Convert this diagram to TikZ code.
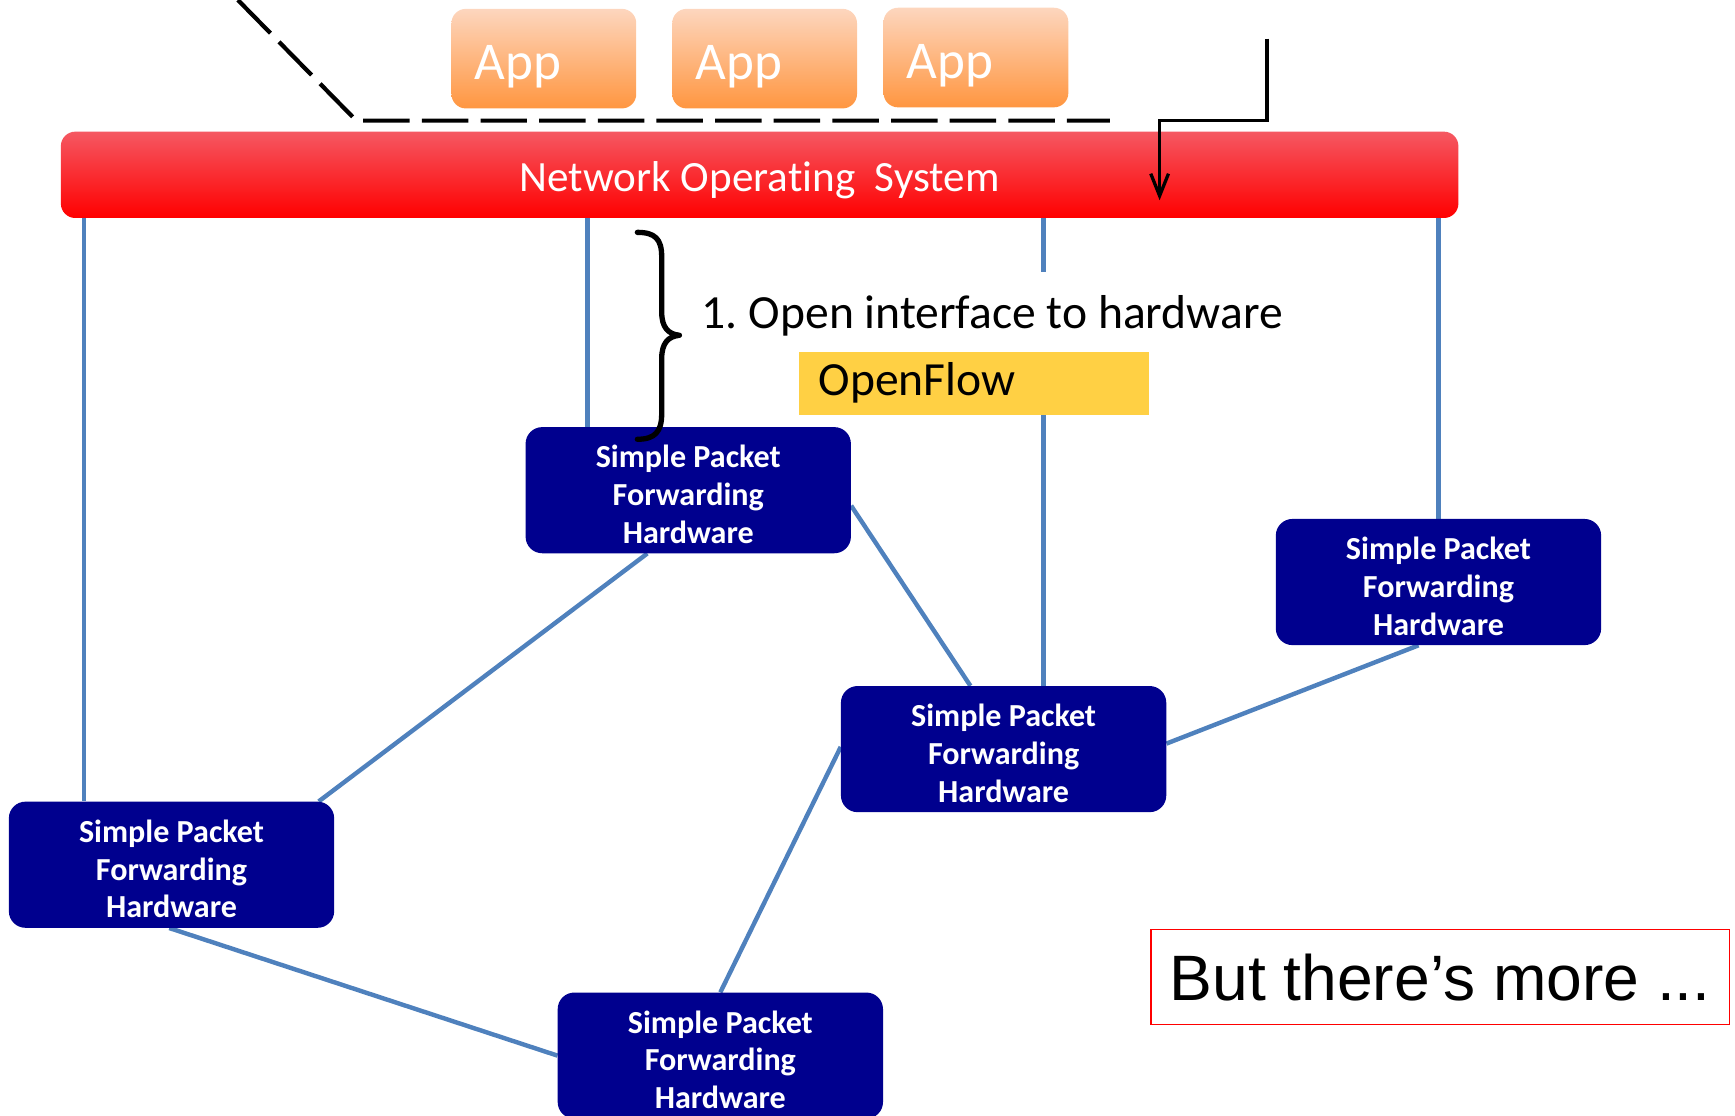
\documentclass[tikz,border=0pt]{standalone}
\usepackage{fontspec}
\setmainfont{Carlito}[Ligatures=NoCommon]
\newfontfamily\arialfont{Liberation Sans}
\usetikzlibrary{arrows.meta,calc,backgrounds}

\definecolor{navybox}{RGB}{0,0,142}
\definecolor{linkblue}{RGB}{79,129,189}
\definecolor{flowyellow}{RGB}{255,208,68}
\definecolor{apptop}{RGB}{253,214,190}
\definecolor{appbot}{RGB}{255,150,64}
\definecolor{nostop}{RGB}{245,88,98}
\definecolor{nosbot}{RGB}{255,0,0}

% invisible strut that lowers the three-line switch labels a little
\newcommand{\firstlinestrut}{\rule{0pt}{28pt}}

\tikzset{
  appbox/.style={rounded corners=13pt, top color=apptop, bottom color=appbot,
    minimum width=167pt, minimum height=90pt, inner sep=0pt,
    text width=125pt, align=left, text=white,
    font=\fontsize{48}{50}\selectfont, text height=38pt, text depth=0pt},
  nosbar/.style={rounded corners=13pt, top color=nostop, bottom color=nosbot,
    minimum width=1263pt, minimum height=78pt, inner sep=0pt, text=white,
    font=\fontsize{39}{42}\selectfont, text height=30pt, text depth=0pt},
  switchbox/.style={rounded corners=15pt, fill=navybox, text=white,
    minimum width=294pt, minimum height=114pt, inner sep=0pt, align=center,
    font=\bfseries\fontsize{29}{34}\selectfont},
  link/.style={draw=linkblue, line width=4pt},
  ctrl/.style={draw=black, line width=3.2pt},
}

\begin{document}
\begin{tikzpicture}[x=1pt,y=-1pt]
\clip (0,0) rectangle (1568,1008);

% applications
\node[appbox] (app1) at (491.5,53) {App};
\node[appbox] (app2) at (691,53) {App};
\node[appbox] (app3) at (882,52) {App};

% network operating system
\node[nosbar] (nos) at (686.5,158) {Network Operating\ \ System};

% forwarding elements
\node[switchbox] (b1) at (622,443)   {\firstlinestrut Simple Packet\\Forwarding\\Hardware};
\node[switchbox] (b2) at (1300,526)  {\firstlinestrut Simple Packet\\Forwarding\\Hardware};
\node[switchbox] (b3) at (907,677)   {\firstlinestrut Simple Packet\\Forwarding\\Hardware};
\node[switchbox] (b4) at (155,781.5) {\firstlinestrut Simple Packet\\Forwarding\\Hardware};
\node[switchbox] (b5) at (651,954)   {\firstlinestrut Simple Packet\\Forwarding\\Hardware};

% interface label and protocol
\node[anchor=west, fill=white, inner xsep=8pt, inner ysep=0pt,
      minimum height=72pt, font=\fontsize{43}{46}\selectfont,
      text height=29.4pt, text depth=0pt] (iface) at (626,282)
      {1.\kern-3pt{} Open interface to hardware};
\node[fill=flowyellow, minimum width=316pt, minimum height=57pt, inner sep=0pt,
      text width=280pt, align=left, font=\fontsize{43}{46}\selectfont,
      text height=21pt, text depth=0pt] (flow) at (880,346.5) {OpenFlow};

\node[draw=red, line width=1.5pt, minimum width=523pt, minimum height=86pt,
      inner sep=0pt, font=\arialfont\fontsize{58}{60}\selectfont,
      text height=42pt, text depth=0pt] (more) at (1301.5,883)
      {But there’s more ...};

% brace over the interface
\node[inner sep=0pt] (bracetip) at (614,303) {};
\draw[line width=4.8pt, line cap=round, line join=round]
  (576,210) .. controls (592,210) and (598,216) .. (598,232)
  -- (598,282) .. controls (598,296) and (604,302) .. (bracetip.center)
  .. controls (604,304) and (598,310) .. (598,324)
  -- (598,374) .. controls (598,390) and (592,397) .. (576,397);

% control paths above the operating system
\coordinate (dashtop) at (215,0);
\coordinate (dashcorner) at (322,109);
\coordinate (dashend) at (1003,109);
\draw[ctrl, line width=3.8pt, dash pattern=on 42pt off 11pt]
  (dashtop) -- (dashcorner) -- (dashend);

\coordinate (ctrltop) at (1145,35);
\coordinate (ctrlbend) at (1145,109);
\coordinate (ctrldrop) at (1048,109);
\coordinate (nosin) at (1048,181);
\draw[ctrl, line width=3pt, -{Straight Barb[length=20pt,width=16pt,line width=3pt]}]
  (ctrltop) -- (ctrlbend) -- (ctrldrop) -- (nosin);

% links between the operating system and the switches, and between switches
\begin{scope}[on background layer]
  \coordinate (v1) at (76,0);
  \coordinate (v2) at (531,0);
  \coordinate (v3) at (943,0);
  \coordinate (v4) at (1300,0);
  \draw[link] (nos.south -| v1) -- (b4.north -| v1);
  \draw[link] (nos.south -| v2) -- (b1.north -| v2);
  \draw[link] (nos.south -| v3) -- (b3.north -| v3);
  \draw[link] (nos.south -| v4) -- (b2.north -| v4);

  \draw[link] ($(b1.south)+(-37,0)$) -- ($(b4.north)+(133,0)$);
  \draw[link] ($(b1.east)+(0,14)$) -- ($(b3.north)+(-30,0)$);
  \draw[link] ($(b3.east)+(0,-5)$) -- ($(b2.south)+(-18,0)$);
  \draw[link] ($(b3.west)+(0,-2)$) -- (b5.north);
  \draw[link] ($(b4.south)+(-2,0)$) -- (b5.west);
\end{scope}
\end{tikzpicture}
\end{document}
